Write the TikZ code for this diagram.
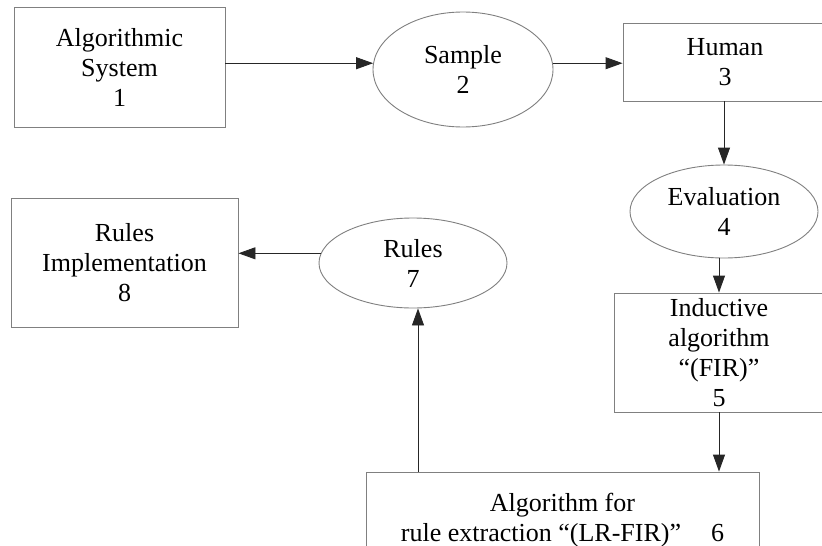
\documentclass[tikz,border=0pt]{standalone}
\usepackage{fontspec}
\setmainfont{Liberation Serif}
\usetikzlibrary{shapes.geometric,arrows.meta}
\begin{document}
\begin{tikzpicture}[x=1pt,y=-1pt,
  txt/.style={inner sep=0pt, align=center, font=\fontsize{26}{30}\selectfont},
  box/.style={txt, draw=black!50, line width=0.9pt, rectangle},
  oval/.style={txt, draw=black!50, line width=0.9pt, ellipse},
  arr/.style={draw=black!85, line width=0.9pt, -{Triangle[length=17pt,width=12pt]}}]
\clip (0,0) rectangle (822,546);
\fill[white] (0,0) rectangle (822,546);

\node[box, minimum width=211pt, minimum height=120pt] (b1) at (119.5,67) {Algorithmic\\System\\1};
\node[oval, minimum width=180pt, minimum height=115pt] (e2) at (463,69.5) {Sample\\2};
\node[box, minimum width=204pt, minimum height=78pt] (b3) at (725,62) {Human\\3};
\node[oval, minimum width=188pt, minimum height=93pt] (e4) at (724,211.5) {Evaluation\\4};
\node[box, minimum width=210pt, minimum height=119pt] (b5) at (719,352.5) {Inductive\\algorithm\\“(FIR)”\\5};
\node[box, minimum width=393pt, minimum height=96pt] (b6) at (562.5,520) {Algorithm for\\rule extraction “(LR-FIR)”\hspace{1.15em}6};
\node[oval, minimum width=188pt, minimum height=90pt] (e7) at (413,263) {Rules\\7};
\node[box, minimum width=227pt, minimum height=129pt] (b8) at (124.5,262.5) {Rules\\Implementation\\8};

\draw[arr] (b1.east |- e2.176) -- (e2.176);
\draw[arr] (e2.4) -- (b3.west |- e2.4);
\draw[arr] (b3.south -| e4.north) -- (e4.north);
\draw[arr] (e4.south -| b5.north) -- (b5.north);
\draw[arr] (b5.south) -- (b5.south |- b6.north);
\draw[arr] ([xshift=5pt]b6.north -| e7.south) -- ([xshift=5pt]e7.south);
\draw[arr] (e7.174) -- (b8.east |- e7.174);
\end{tikzpicture}
\end{document}
